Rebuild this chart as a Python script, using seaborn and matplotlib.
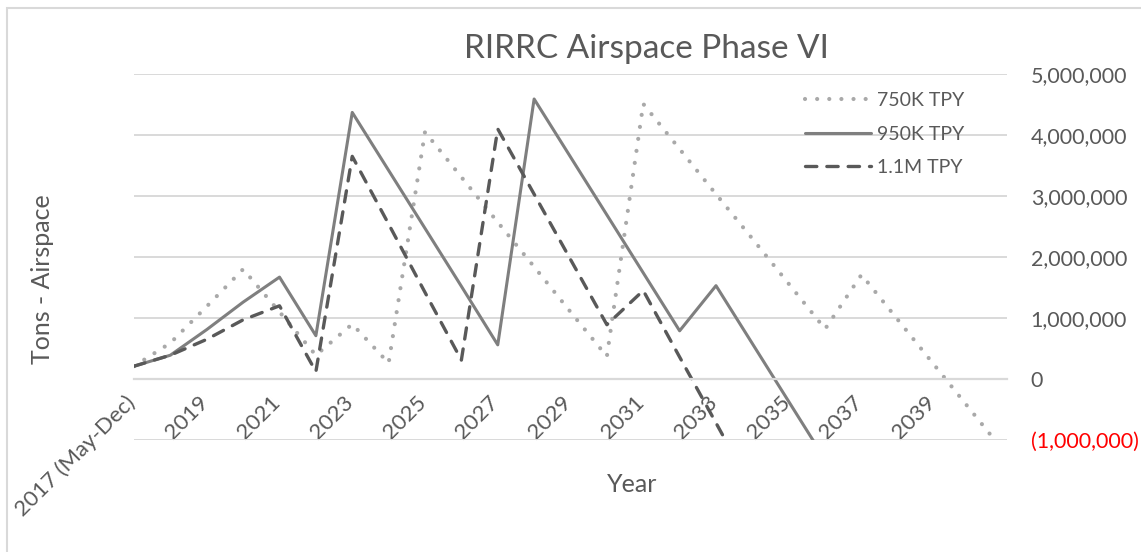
import pandas as pd
import matplotlib.pyplot as plt
import matplotlib.transforms as mtransforms
from matplotlib.patches import Rectangle
from matplotlib.ticker import FuncFormatter
import seaborn as sns

# categories (last one has no label on the chart)
years = ["2017 (May-Dec)"] + [str(y) for y in range(2018, 2042)]

# remaining airspace in millions of tons
tpy_750k = [0.21, 0.59, 1.19, 1.80, 1.10, 0.39, 0.90, 0.26, 4.05, 3.31, 2.57, 1.84, 1.10,
            0.37, 4.51, 3.77, 3.03, 2.30, 1.56, 0.82, 1.71, 0.97, 0.23, -0.51, -1.25]
tpy_950k = [0.21, 0.39, 0.81, 1.26, 1.67, 0.71, 4.37, 3.42, 2.47, 1.52, 0.56, 4.59, 3.64,
            2.69, 1.74, 0.79, 1.53, 0.58, -0.37, -1.32, None, None, None, None, None]
tpy_1_1m = [0.21, 0.39, 0.65, 0.97, 1.20, 0.12, 3.65, 2.54, 1.42, 0.31, 4.10, 3.03, 1.96,
            0.89, 1.45, 0.36, -0.72, -1.81, None, None, None, None, None, None, None]

series_names = ["750K TPY", "950K TPY", "1.1M TPY"]
y_ticks = [-1e6, 0, 1e6, 2e6, 3e6, 4e6, 5e6]

df = pd.DataFrame({
    "idx": range(len(years)),
    "750K TPY": [v * 1e6 if v is not None else float("nan") for v in tpy_750k],
    "950K TPY": [v * 1e6 if v is not None else float("nan") for v in tpy_950k],
    "1.1M TPY": [v * 1e6 if v is not None else float("nan") for v in tpy_1_1m],
})

sns.set_style("white")
plt.rcParams["font.family"] = ["Lato", "DejaVu Sans"]
TXT = "#595959"
GRID = "#d9d9d9"

fig = plt.figure(figsize=(11.41, 5.52), dpi=100)
ax = fig.add_axes([134 / 1141, 1 - 440 / 552, 873 / 1141, 366 / 552])

styles = {
    "750K TPY": dict(color="#a9a9a9", lw=3.0, linestyle=(0, (0.01, 2.9)), dash_capstyle="round"),
    "950K TPY": dict(color="#7f7f7f", lw=2.2, linestyle="-"),
    "1.1M TPY": dict(color="#595959", lw=2.4, linestyle=(0, (3.4, 3.0)), dash_capstyle="round"),
}
for name in series_names:
    sns.lineplot(data=df, x="idx", y=name, ax=ax, label=name, **styles[name])

ax.set_xlim(0, len(years) - 1)
ax.set_ylim(y_ticks[0], y_ticks[-1])
ax.set_yticks(y_ticks)
ax.yaxis.tick_right()
ax.yaxis.set_major_formatter(FuncFormatter(
    lambda v, p: f"{v:,.0f}" if v >= 0 else f"({-v:,.0f})"))
ax.tick_params(axis="y", length=0, pad=17, labelsize=15.5, labelcolor=TXT)
for tick, val in zip(ax.yaxis.get_major_ticks(), y_ticks):
    if val < 0:
        tick.label2.set_color("#ff0000")

ax.grid(axis="y", color=GRID, lw=1.4)
ax.grid(axis="x", visible=False)
for s in ["top", "right", "left"]:
    ax.spines[s].set_visible(False)
ax.spines["bottom"].set_position(("data", 0))
ax.spines["bottom"].set_color(GRID)
ax.spines["bottom"].set_linewidth(1.6)

ax.set_xticks(range(len(years)))
ax.set_xticklabels([y if i % 2 == 0 and i < len(years) - 1 else "" for i, y in enumerate(years)],
                   rotation=45, ha="right")
ax.tick_params(axis="x", direction="inout", length=11, width=1.4, color=GRID,
               pad=4, labelsize=16, labelcolor=TXT)
offset = mtransforms.ScaledTranslation(5 / 100, 0, fig.dpi_scale_trans)
for lab in ax.get_xticklabels():
    lab.set_transform(lab.get_transform() + offset)

ax.set_xlabel("")
ax.set_ylabel("")

leg = ax.legend(frameon=False, loc="upper left", bbox_to_anchor=(805 / 1141, 1 - 92 / 552),
                bbox_transform=fig.transFigure, borderpad=0, borderaxespad=0,
                fontsize=14, handlelength=3.4, labelspacing=0.85, handletextpad=0.3,
                labelcolor=TXT)

fig.text(646 / 1141, 1 - 58 / 552, "RIRRC Airspace Phase VI", ha="center", va="baseline",
         fontsize=24, color=TXT)
fig.text(43 / 1141, 1 - 279 / 552, "Tons - Airspace", ha="center", va="center",
         rotation=90, fontsize=18, color=TXT)
fig.text(632 / 1141, 1 - 484 / 552, "Year", ha="center", va="center", fontsize=18, color=TXT)

fig.patches.append(Rectangle((7 / 1141, -0.1), 1.2, 1.1 - 8 / 552, transform=fig.transFigure,
                             fill=False, edgecolor=GRID, lw=1.5))

fig.savefig("out.png", dpi=100)
